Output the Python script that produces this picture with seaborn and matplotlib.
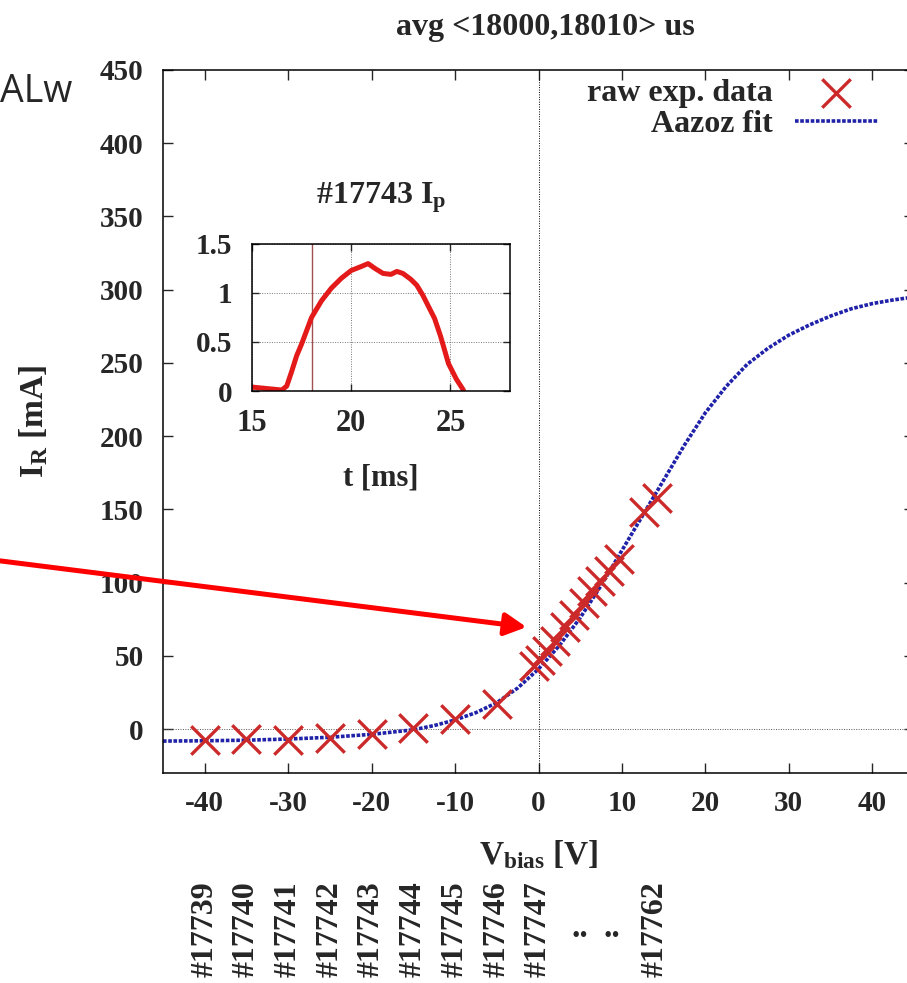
import matplotlib
matplotlib.use("Agg")
import matplotlib.pyplot as plt
import matplotlib.transforms as mtransforms
import seaborn as sns

sns.set_style("ticks")
plt.rcParams["font.family"] = ["Liberation Serif", "DejaVu Serif"]
plt.rcParams["font.weight"] = "bold"
plt.rcParams["axes.labelweight"] = "bold"
plt.rcParams["axes.titleweight"] = "bold"
plt.rcParams["mathtext.fontset"] = "custom"
plt.rcParams["mathtext.rm"] = "Liberation Serif:bold"
plt.rcParams["mathtext.it"] = "Liberation Serif:bold"
plt.rcParams["mathtext.bf"] = "Liberation Serif:bold"
plt.rcParams["axes.unicode_minus"] = False

# raw probe data
v_bias = [-40, -35, -30, -25, -20, -15, -10, -5, -0.5, 0.2, 1.0, 2.0, 3.2, 4.3, 5.4, 6.4, 7.4, 8.5, 9.6, 12.6, 14.2]
i_r = [-7.5, -6.8, -7.2, -6.3, -3.4, 1.0, 7.0, 17.0, 43.0, 47.0, 53.0, 60.0, 70.0, 78.0, 86.0, 94.0, 101.0, 108.0, 116.0, 148.0, 158.0]

# fit curve
fit_v = [-45, -40, -35, -30, -25, -20, -15, -12.5, -10, -7.5, -5, -2.5, 0, 2.5, 5, 7.5, 10, 12.5, 15, 17.5,
         20, 22.5, 25, 27.5, 30, 32.5, 35, 37.5, 40, 42.5, 45]
fit_i = [-8.2, -8.0, -7.6, -6.8, -5.6, -3.6, -0.5, 2.4, 6.2, 11.2, 18.0, 28.0, 41.0, 57.0, 76.0, 98.0, 122.0, 146.0, 170.0, 194.0,
         216.0, 234.0, 249.0, 260.0, 269.0, 276.0, 282.0, 287.0, 290.5, 293.0, 295.0]

# inset: plasma current of shot #17743
ip_t = [15.0, 15.5, 16.0, 16.5, 16.75, 17.0, 17.25, 17.5, 18.0, 18.5, 19.0, 19.5, 20.0, 20.5, 20.85, 21.2,
        21.6, 22.0, 22.3, 22.6, 23.0, 23.3, 23.6, 23.9, 24.2, 24.5, 24.9, 25.3, 25.65]
ip_val = [0.04, 0.03, 0.02, 0.01, 0.05, 0.20, 0.36, 0.48, 0.75, 0.92, 1.05, 1.15, 1.23, 1.27, 1.30, 1.25,
          1.20, 1.19, 1.22, 1.20, 1.14, 1.08, 0.98, 0.86, 0.74, 0.56, 0.28, 0.12, 0.01]

shot_v = [-40, -35, -30, -25, -20, -15, -10, -5, 0, 14]
shot_names = ["#17739", "#17740", "#17741", "#17742", "#17743", "#17744", "#17745", "#17746", "#17747", "#17762"]

fig = plt.figure(figsize=(9.07, 9.83), dpi=100)
ax = fig.add_axes([163 / 907, 1 - 773 / 983, 751 / 907, 703 / 983])

ax.axvline(0, color="k", lw=0.7, ls=(0, (1, 1.5)), zorder=1)
ax.axhline(0, color="#555555", lw=0.7, ls=(0, (1, 1.5)), zorder=1)

sns.lineplot(x=fit_v, y=fit_i, ax=ax, color="#1f22a8", lw=2.6, linestyle=(0, (1, 0.45)),
             label="Aazoz fit", zorder=2)
sns.scatterplot(x=v_bias, y=i_r, ax=ax, marker="x", s=420, linewidth=2.4, color="#cc2a2a",
                label="raw exp. data", zorder=3)

ax.set_xlim(-45, 45)
ax.set_ylim(-30, 450)
ax.set_xticks(range(-40, 41, 10))
ax.set_yticks(range(0, 451, 50))
ax.tick_params(direction="in", length=7, width=1, top=True, right=True, labelsize=21)
ax.tick_params(axis="x", pad=12)
ax.tick_params(axis="y", pad=14)
for s in ax.spines.values():
    s.set_linewidth(1.1)
    s.set_color("k")

ax.set_xlabel(r"V$_{\rm bias}$ [V]", fontsize=24, labelpad=16)
ax.set_ylabel(r"I$_{\rm R}$ [mA]", fontsize=24)
ax.yaxis.set_label_coords(-0.150, 0.5)

h, l = ax.get_legend_handles_labels()
ax.legend(h[::-1], l[::-1], loc="upper right", bbox_to_anchor=(878 / 907, 1 - 79 / 983),
          bbox_transform=fig.transFigure, frameon=False, markerfirst=False, handlelength=2.6,
          handletextpad=0.7, labelspacing=0.04, borderpad=0, borderaxespad=0, fontsize=23,
          scatterpoints=1)

ax.annotate("", xy=(-1.44, 69.6), xytext=(-64.6, 114.9),
            arrowprops=dict(arrowstyle="-|>,head_length=0.65,head_width=0.34", color="red",
                            lw=3.6, shrinkA=0, shrinkB=0, mutation_scale=20),
            annotation_clip=False)

# shot numbers below the axis
trans = mtransforms.blended_transform_factory(ax.transData, fig.transFigure)
for v, name in zip(shot_v, shot_names):
    ax.text(v, 1 - 977 / 983, name, transform=trans, rotation=90, ha="center", va="bottom",
            fontsize=23, clip_on=False)
for v in [4.9, 8.75]:
    ax.text(v, 1 - 937 / 983, "..", transform=trans, ha="center", va="baseline", fontsize=24,
            clip_on=False)

fig.text(545 / 907, 1 - 28 / 983, "avg <18000,18010> us", ha="center", va="center", fontsize=23)
fig.text(0, 1 - 102 / 983, "ALw", family=["Open Sans", "DejaVu Sans"], fontsize=27,
         weight="normal", ha="left", va="baseline")

# inset
ax2 = fig.add_axes([252 / 907, 1 - 391 / 983, 258 / 907, 147 / 983])
ax2.grid(True, color="#777777", ls=(0, (1, 1.5)), lw=0.7)
ax2.axvline(18, color="#a05050", lw=1)
sns.lineplot(x=ip_t, y=ip_val, ax=ax2, color="#e41a1a", lw=3.6)
ax2.set_xlim(15, 28)
ax2.set_ylim(0, 1.5)
ax2.set_xticks([15, 20, 25])
ax2.set_yticks([0, 0.5, 1, 1.5])
ax2.set_yticklabels(["0", "0.5", "1", "1.5"])
ax2.tick_params(direction="in", length=5, width=1, top=True, right=True)
ax2.tick_params(axis="x", labelsize=22, pad=13)
ax2.tick_params(axis="y", labelsize=21, pad=14)
for s in ax2.spines.values():
    s.set_linewidth(1.1)
    s.set_color("k")
ax2.set_title(r"#17743 I$_{\rm p}$", fontsize=23, pad=29)
ax2.set_xlabel("t [ms]", fontsize=22, labelpad=18)
ax2.set_ylabel("")

fig.savefig("out.png", dpi=100)
